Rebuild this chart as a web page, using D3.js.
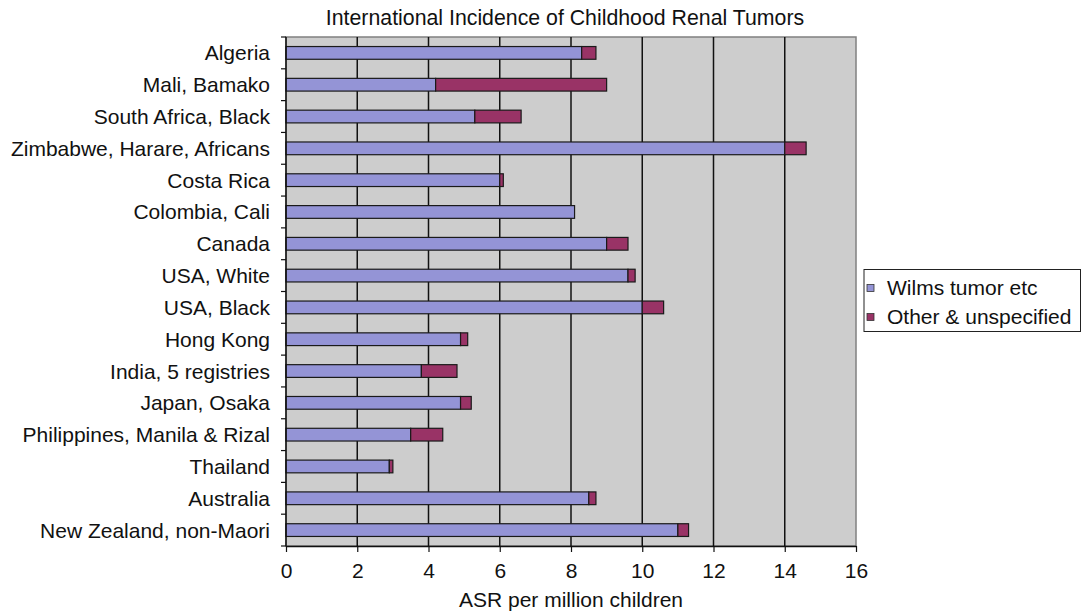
<!DOCTYPE html>
<html><head><meta charset="utf-8">
<script src="https://cdn.jsdelivr.net/npm/d3@7/dist/d3.min.js"></script>
<style>body{margin:0;background:#fff;} text{font-family:"Liberation Sans",Arial,sans-serif;fill:#111;}</style>
</head><body><svg id="c" width="1082" height="611"></svg>
<script>
const categories = ["Algeria","Mali, Bamako","South Africa, Black","Zimbabwe, Harare, Africans","Costa Rica","Colombia, Cali","Canada","USA, White","USA, Black","Hong Kong","India, 5 registries","Japan, Osaka","Philippines, Manila & Rizal","Thailand","Australia","New Zealand, non-Maori"];
const wilms = [8.3,4.2,5.3,14.0,6.0,8.1,9.0,9.6,10.0,4.9,3.8,4.9,3.5,2.9,8.5,11.0];
const other = [0.4,4.8,1.3,0.6,0.1,0.0,0.6,0.2,0.6,0.2,1.0,0.3,0.9,0.1,0.2,0.3];
const seriesNames = ["Wilms tumor etc","Other & unspecified"];
const colors = ["#9494d6","#993366"];
const xTicks = [0,2,4,6,8,10,12,14,16];

const svg = d3.select("#c");
const m = {l:286, r:856, t:37, b:546};
const x = d3.scaleLinear().domain([0,16]).range([m.l,m.r]);
const y = d3.scaleBand().domain(categories).range([m.t,m.b]).paddingInner(0.6).paddingOuter(0.3);
const yb = d3.scaleBand().domain(categories).range([m.t,m.b]);

svg.append("rect").attr("x",m.l).attr("y",m.t).attr("width",m.r-m.l).attr("height",m.b-m.t)
  .attr("fill","#cdcdcd").attr("stroke","#808080").attr("stroke-width",1.5);

svg.append("g").selectAll("line").data(xTicks.slice(1,-1)).join("line")
  .attr("x1",d=>x(d)).attr("x2",d=>x(d)).attr("y1",m.t).attr("y2",m.b)
  .attr("stroke","#111").attr("stroke-width",1.5);

const data = categories.map((c,i)=>({c, v:[wilms[i],other[i]]}));
const g = svg.append("g");
data.forEach(d=>{
  let x0 = 0;
  d.v.forEach((v,j)=>{
    if (v>0) g.append("rect").attr("x",x(x0)).attr("y",y(d.c)).attr("width",x(x0+v)-x(x0)).attr("height",y.bandwidth())
      .attr("fill",colors[j]).attr("stroke","#1a1a1a").attr("stroke-width",1.2);
    x0 += v;
  });
});

// y axis
const ya = svg.append("g");
ya.append("line").attr("x1",m.l).attr("x2",m.l).attr("y1",m.t).attr("y2",m.b).attr("stroke","#111").attr("stroke-width",1.5);
const bounds = categories.map(c=>yb(c)).concat([m.b]);
ya.selectAll("line.t").data(bounds).join("line").attr("class","t")
  .attr("x1",m.l-5).attr("x2",m.l).attr("y1",d=>d).attr("y2",d=>d).attr("stroke","#111").attr("stroke-width",1.2);
ya.selectAll("text").data(categories).join("text")
  .attr("x",270).attr("y",d=>yb(d)+yb.bandwidth()/2+7.5).attr("text-anchor","end")
  .attr("font-size",21).text(d=>d);

// x axis
const xa = svg.append("g").attr("transform",`translate(0,${m.b})`)
  .call(d3.axisBottom(x).tickValues(xTicks).tickSize(6).tickSizeOuter(0));
xa.select(".domain").attr("stroke","#111").attr("stroke-width",1.5);
xa.selectAll(".tick line").attr("stroke","#111").attr("stroke-width",1.2);
xa.selectAll(".tick text").attr("y",32).attr("dy",0).attr("font-size",21).attr("fill","#111").attr("font-family","Liberation Sans, Arial, sans-serif");

svg.append("text").attr("x",571).attr("y",607).attr("text-anchor","middle").attr("font-size",21).text("ASR per million children");
svg.append("text").attr("x",565).attr("y",25).attr("text-anchor","middle").attr("font-size",21.3).text("International Incidence of Childhood Renal Tumors");

// legend
const lg = svg.append("g");
lg.append("rect").attr("x",864).attr("y",269.5).attr("width",216.5).attr("height",62).attr("fill","#fff").attr("stroke","#222").attr("stroke-width",1);
seriesNames.forEach((n,i)=>{
  const cy = 288 + i*29;
  lg.append("rect").attr("x",867).attr("y",cy-3.5).attr("width",7).attr("height",7).attr("fill",colors[i]).attr("stroke","#333").attr("stroke-width",0.8);
  lg.append("text").attr("x",887).attr("y",cy+7).attr("font-size",21).text(n);
});
</script></body></html>
